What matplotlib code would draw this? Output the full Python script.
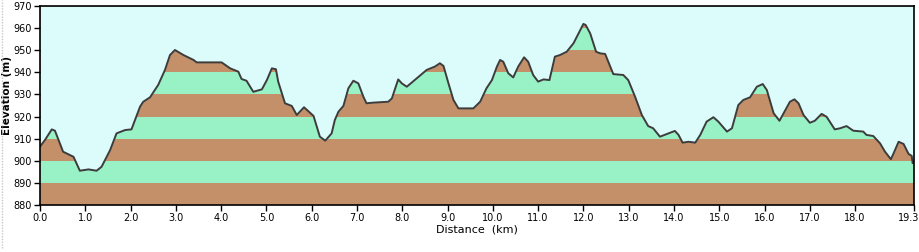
import matplotlib
matplotlib.use("Agg")
import matplotlib.pyplot as plt
import matplotlib.transforms as mtransforms
import numpy as np

distance_km = [0.00, 0.11, 0.26, 0.33, 0.51, 0.74, 0.88, 1.07, 1.25, 1.36, 1.55, 1.69, 1.88, 2.02,
               2.21, 2.28, 2.43, 2.61, 2.76, 2.87, 2.98, 3.17, 3.39, 3.46, 4.01, 4.20, 4.38, 4.45,
               4.56, 4.71, 4.90, 5.01, 5.12, 5.21, 5.26, 5.41, 5.56, 5.67, 5.83, 6.04, 6.18, 6.30,
               6.44, 6.51, 6.59, 6.70, 6.81, 6.92, 7.03, 7.14, 7.21, 7.36, 7.69, 7.77, 7.91, 7.99,
               8.10, 8.32, 8.54, 8.72, 8.83, 8.91, 9.02, 9.13, 9.24, 9.57, 9.72, 9.86, 9.98, 10.09,
               10.16, 10.23, 10.34, 10.45, 10.56, 10.69, 10.78, 10.89, 11.00, 11.12, 11.25, 11.37,
               11.48, 11.63, 11.78, 11.93, 12.00, 12.05, 12.15, 12.28, 12.37, 12.48, 12.55, 12.66,
               12.88, 12.99, 13.14, 13.29, 13.43, 13.54, 13.69, 13.84, 14.02, 14.10, 14.19, 14.32,
               14.47, 14.58, 14.72, 14.87, 14.98, 15.17, 15.28, 15.42, 15.53, 15.68, 15.83, 15.96,
               16.05, 16.20, 16.33, 16.42, 16.56, 16.66, 16.75, 16.86, 17.00, 17.11, 17.26, 17.37,
               17.55, 17.67, 17.81, 17.96, 18.18, 18.25, 18.40, 18.55, 18.66, 18.79, 18.85, 18.96,
               19.07, 19.18, 19.25, 19.27, 19.30]
elevation_m = [906.4, 909.4, 914.2, 913.6, 904.1, 901.8, 895.5, 896.1, 895.5, 897.3, 904.9, 912.4, 913.9, 914.2,
               924.5, 926.7, 928.7, 934.3, 941.1, 947.8, 950.1, 947.8, 945.6, 944.5, 944.5, 941.8, 940.3, 937.0,
               936.2, 931.2, 932.3, 936.5, 941.8, 941.4, 935.8, 926.0, 924.8, 920.7, 924.2, 920.3, 910.9, 909.1,
               912.4, 918.4, 922.2, 924.8, 932.8, 936.2, 935.0, 929.0, 926.0, 926.3, 926.7, 928.2, 936.8, 935.0,
               933.5, 937.3, 941.1, 942.6, 944.1, 942.9, 935.0, 927.5, 923.7, 923.7, 926.7, 932.8, 936.5, 942.6,
               945.6, 944.8, 939.6, 937.7, 942.6, 946.8, 944.8, 938.8, 935.8, 936.8, 936.5, 947.1,
               947.8, 949.3, 953.1, 959.1, 961.9, 961.4, 957.6, 949.3, 948.6, 948.3, 944.8, 939.2,
               938.8, 936.5, 929.0, 920.7, 915.7, 914.7, 910.9, 912.1, 913.5, 911.7, 908.2, 908.6,
               908.2, 911.7, 917.7, 919.7, 917.7, 913.2, 914.7, 925.2, 927.5, 928.7, 933.5, 934.7,
               932.0, 921.5, 918.1, 921.5, 926.7, 927.8, 926.0, 920.7, 917.2, 918.1, 921.2, 919.9,
               914.2, 914.7, 915.7, 913.6, 913.2, 911.7, 911.2, 907.9, 904.1, 900.7, 903.4, 908.6,
               907.6, 903.1, 902.2, 898.9, 900.0]

x_ticks = [0, 1, 2, 3, 4, 5, 6, 7, 8, 9, 10, 11, 12, 13, 14, 15, 16, 17, 18, 19.3]
x_tick_labels = ["0.0", "1.0", "2.0", "3.0", "4.0", "5.0", "6.0", "7.0", "8.0", "9.0", "10.0",
                 "11.0", "12.0", "13.0", "14.0", "15.0", "16.0", "17.0", "18.0", "19.3"]
y_ticks = [880, 890, 900, 910, 920, 930, 940, 950, 960, 970]

brown = "#c4906a"
green = "#98f2c6"
sky = "#dcfcfc"

fig = plt.figure(figsize=(9.2, 2.52), dpi=100)
ax = fig.add_axes([40 / 920, 1 - 205 / 252, 874 / 920, 199 / 252])
ax.set_xlim(0, 19.3)
ax.set_ylim(880, 970)

x = np.array(distance_km)
y = np.array(elevation_m)
for i, lo in enumerate(y_ticks[:-1]):
    ax.axhspan(lo, lo + 10, color=brown if i % 2 == 0 else green, linewidth=0, zorder=0)
ax.fill_between(x, y, 970, color=sky, linewidth=0, zorder=1)
ax.plot(x, y, color="#3c3c3c", linewidth=1.4, zorder=2)

ax.set_xticks(x_ticks)
ax.set_xticklabels(x_tick_labels)
ax.set_yticks(y_ticks)
ax.set_yticklabels([str(v) for v in y_ticks])
ax.tick_params(axis="both", direction="out", length=4, width=1, labelsize=7, colors="black", pad=2)
last = ax.get_xticklabels()[-1]
last.set_transform(last.get_transform() + mtransforms.ScaledTranslation(-5 / 100, 0, fig.dpi_scale_trans))
for s in ax.spines.values():
    s.set_linewidth(1.2)
    s.set_color("black")
    s.set_zorder(3)

ax.set_xlabel("Distance  (km)", fontsize=8, labelpad=1)
ax.set_ylabel("Elevation (m)", fontsize=7.5, fontweight="bold")
ax.yaxis.set_label_coords(-28 / 874, 0.55)

fig.add_artist(plt.Line2D([2 / 920, 2 / 920], [1 - 248 / 252, 1.0], color="#c8c8c8",
                          linewidth=1, linestyle=(0, (1, 1))))

fig.savefig("out.png", dpi=100)
